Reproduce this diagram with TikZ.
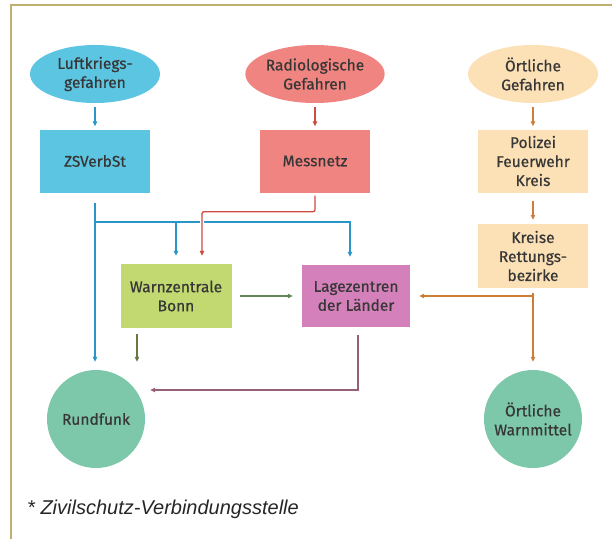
\documentclass[tikz,border=0pt]{standalone}
\usepackage{fontspec}
\setmainfont{Fira Sans}
\newfontfamily\medfont{Fira Sans}[FakeBold=0.6]
\newfontfamily\footfont{Liberation Sans}
\usetikzlibrary{shapes.geometric,arrows.meta}
\definecolor{cyanF}{RGB}{92,197,226}
\definecolor{salmonF}{RGB}{240,132,128}
\definecolor{peachF}{RGB}{252,225,183}
\definecolor{limeF}{RGB}{194,216,112}
\definecolor{pinkF}{RGB}{212,128,186}
\definecolor{tealF}{RGB}{125,199,170}
\definecolor{frameC}{RGB}{192,175,112}
\definecolor{txtC}{RGB}{55,55,55}
\definecolor{blueA}{RGB}{40,150,200}
\definecolor{redA}{RGB}{205,75,65}
\definecolor{greenA}{RGB}{100,135,85}
\definecolor{dgreenA}{RGB}{105,120,65}
\definecolor{mauveA}{RGB}{150,95,120}
\definecolor{orangeA}{RGB}{205,125,55}
\tikzset{
  lbl/.style={text=txtC, font=\medfont\fontsize{15.5}{19}\selectfont, align=center, inner sep=0pt},
  ell/.style={lbl, ellipse, minimum width=130pt, minimum height=58pt},
  boxn/.style={lbl, rectangle, minimum width=110pt, minimum height=63pt},
  circn/.style={lbl, circle, minimum size=98pt},
  arr/.style={-{Triangle[length=5pt,width=4.5pt]}, line width=1.3pt},
}
\begin{document}
\begin{tikzpicture}[x=1pt,y=-1pt]
\useasboundingbox (0,0) rectangle (612,539);
\draw[frameC, line width=1.6pt] (11,539) -- (11,5) -- (612,5);
% nodes
\node[ell, fill=cyanF] (luft) at (95,74) {Luftkriegs-\\gefahren};
\node[boxn, fill=cyanF] (zs) at (95,161) {ZSVerbSt};
\node[ell, fill=salmonF] (radio) at (315,74) {Radiologische\\Gefahren};
\node[boxn, fill=salmonF] (mess) at (315,161) {Messnetz};
\node[ell, fill=peachF] (oert) at (533,74) {Örtliche\\Gefahren};
\node[boxn, fill=peachF] (pol) at (533,161) {Polizei\\Feuerwehr\\Kreis};
\node[boxn, fill=peachF, minimum height=64pt] (kreis) at (533,256) {Kreise\\Rettungs-\\bezirke};
\node[boxn, fill=limeF, minimum width=111pt, minimum height=64pt] (warn) at (176,296) {Warnzentrale\\Bonn};
\node[boxn, fill=pinkF, minimum width=108pt, minimum height=62pt] (lage) at (356,296) {Lagezentren\\der Länder};
\node[circn, fill=tealF] (rund) at (96,419) {Rundfunk};
\node[circn, fill=tealF] (wm) at (533,419) {Örtliche\\Warnmittel};
\node[anchor=base west, inner sep=0pt, font=\footfont\itshape\fontsize{20}{22}\selectfont, text=black!85] (fn) at (27,514) {* Zivilschutz-Verbindungsstelle};
% short arrows
\draw[arr, blueA, shorten <=4pt, shorten >=3pt] (luft) -- (zs);
\draw[arr, redA, shorten <=4pt, shorten >=3pt] (radio) -- (mess);
\draw[arr, orangeA, shorten <=4pt, shorten >=3pt] (oert) -- (pol);
\draw[arr, orangeA, shorten <=8pt, shorten >=4pt] (pol) -- (kreis);
% blue network
\coordinate (bj) at (95,222);
\draw[arr, blueA, shorten <=10pt, shorten >=8pt] (zs.south) -- (zs.south |- rund.north);
\draw[arr, blueA, shorten >=8pt] (bj) -| (warn.north);
\draw[arr, blueA, shorten >=8pt] (bj) -| ([xshift=-6pt]lage.north);
% red
\draw[arr, redA, rounded corners=2pt, shorten <=3pt, shorten >=8pt,
  preaction={draw=white, line width=4pt, -}] (mess.south) -- ++(0,19) -| ([xshift=26pt]warn.north);
% green
\draw[arr, greenA, shorten <=8pt, shorten >=9pt] (warn.east) -- (lage.west);
\draw[arr, dgreenA, shorten <=6pt, shorten >=8pt] ([xshift=-39pt]warn.south) -- ([xshift=-39pt]warn.south |- rund.north);
% mauve
\draw[arr, mauveA, shorten <=8pt] ([xshift=2pt]lage.south) |- ([xshift=5pt,yshift=29pt]rund.east);
% orange
\draw[arr, orangeA, shorten <=5pt, shorten >=9pt] (kreis.south) |- (lage.east);
\draw[arr, orangeA, shorten <=5pt, shorten >=8pt] (kreis.south) -- (wm.north);
\end{tikzpicture}
\end{document}
